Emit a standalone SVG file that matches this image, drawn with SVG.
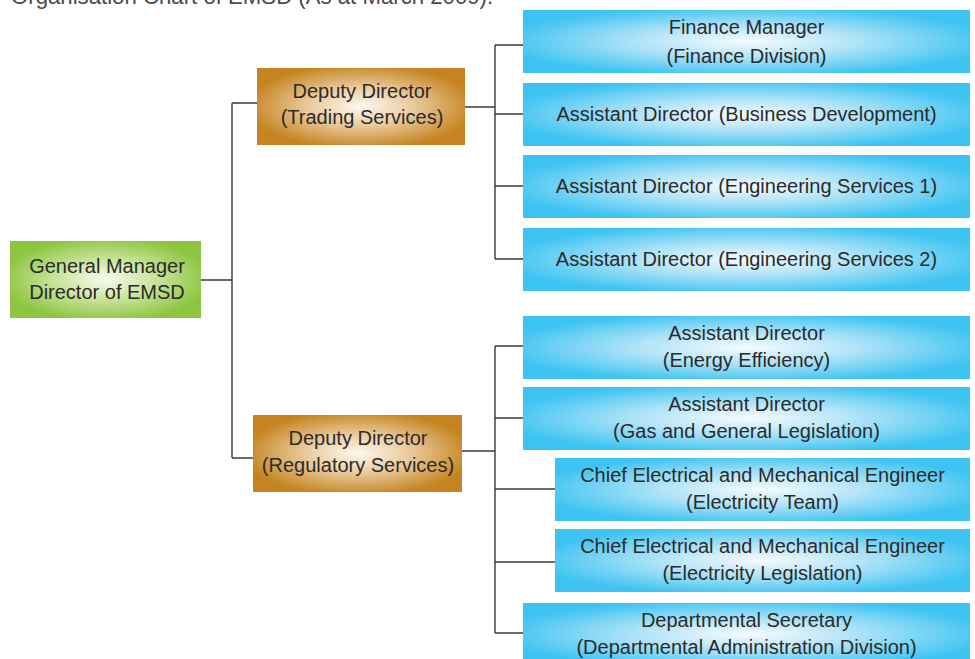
<svg xmlns="http://www.w3.org/2000/svg" width="975" height="659" viewBox="0 0 975 659">
  <style>
    text { font-family: "Liberation Sans", Arial, sans-serif; font-size: 20px; fill: #2b2b2b; text-anchor: middle; }
    .title { font-size: 22.2px; fill: #4a4a4a; text-anchor: start; }
    .wire { fill: none; stroke: #3a3a3a; stroke-width: 1.4; }
    .gm { fill: url(#gGreen); }
    .dd { fill: url(#gGold); }
    .ad { fill: url(#gBlue); }
  </style>
  <defs>
    <radialGradient id="gGreen" cx="0.5" cy="0.5" r="0.55">
      <stop offset="0" stop-color="#f7fbef"/>
      <stop offset="0.45" stop-color="#cbe5a0"/>
      <stop offset="1" stop-color="#8cc53e"/>
    </radialGradient>
    <radialGradient id="gGold" cx="0.5" cy="0.5" r="0.55">
      <stop offset="0" stop-color="#fdf8f0"/>
      <stop offset="0.45" stop-color="#eacb9f"/>
      <stop offset="1" stop-color="#c5841f"/>
    </radialGradient>
    <radialGradient id="gBlue" cx="0.5" cy="0.5" r="0.55">
      <stop offset="0" stop-color="#f6fbfe"/>
      <stop offset="0.45" stop-color="#b0e3f7"/>
      <stop offset="1" stop-color="#3ec4f2"/>
    </radialGradient>
  </defs>

  <text class="title" x="11" y="3.5">Organisation Chart of EMSD (As at March 2009).</text>

  <!-- connectors -->
  <g id="connectors">
    <path class="wire" d="M201 280 H232 M232 103 V458 M232 103 H257 M232 458 H253"/>
    <path class="wire" d="M465 107 H495 M495 45 V259 M495 45 H523 M495 114 H523 M495 186 H523 M495 259 H523"/>
    <path class="wire" d="M462 451 H495 M495 346 V633 M495 346 H523 M495 418 H523 M495 489 H555 M495 562 H555 M495 633 H523"/>
  </g>

  <g id="general-manager">
    <rect class="gm" x="10" y="241" width="191" height="77"/>
    <text x="107" y="273">General Manager</text>
    <text x="107" y="298.5">Director of EMSD</text>
  </g>

  <g id="dd-trading">
    <rect class="dd" x="257" y="68" width="208" height="77"/>
    <text x="362" y="97.5">Deputy Director</text>
    <text x="362" y="123.5">(Trading Services)</text>
  </g>

  <g id="dd-regulatory">
    <rect class="dd" x="253" y="415" width="209" height="77"/>
    <text x="358" y="445">Deputy Director</text>
    <text x="358" y="471.5">(Regulatory Services)</text>
  </g>

  <g id="finance">
    <rect class="ad" x="523" y="10" width="447" height="63"/>
    <text x="746.5" y="34.3">Finance Manager</text>
    <text x="746.5" y="63">(Finance Division)</text>
  </g>

  <g id="ad-business">
    <rect class="ad" x="523" y="83" width="447" height="63"/>
    <text x="746.5" y="120.7">Assistant Director (Business Development)</text>
  </g>

  <g id="ad-es1">
    <rect class="ad" x="523" y="155" width="447" height="63"/>
    <text x="746.5" y="193">Assistant Director (Engineering Services 1)</text>
  </g>

  <g id="ad-es2">
    <rect class="ad" x="523" y="228" width="447" height="63"/>
    <text x="746.5" y="266">Assistant Director (Engineering Services 2)</text>
  </g>

  <g id="ad-energy">
    <rect class="ad" x="523" y="316" width="447" height="63"/>
    <text x="746.5" y="339.5">Assistant Director</text>
    <text x="746.5" y="366.5">(Energy Efficiency)</text>
  </g>

  <g id="ad-gas">
    <rect class="ad" x="523" y="387" width="447" height="63"/>
    <text x="746.5" y="410.5">Assistant Director</text>
    <text x="746.5" y="437.5">(Gas and General Legislation)</text>
  </g>

  <g id="ceme-team">
    <rect class="ad" x="555" y="458" width="415" height="63"/>
    <text x="762.5" y="481.7">Chief Electrical and Mechanical Engineer</text>
    <text x="762.5" y="509">(Electricity Team)</text>
  </g>

  <g id="ceme-legislation">
    <rect class="ad" x="555" y="529" width="415" height="63"/>
    <text x="762.5" y="552.7">Chief Electrical and Mechanical Engineer</text>
    <text x="762.5" y="580">(Electricity Legislation)</text>
  </g>

  <g id="secretary">
    <rect class="ad" x="523" y="603" width="447" height="63"/>
    <text x="746.5" y="626.7">Departmental Secretary</text>
    <text x="746.5" y="653.5">(Departmental Administration Division)</text>
  </g>
</svg>
